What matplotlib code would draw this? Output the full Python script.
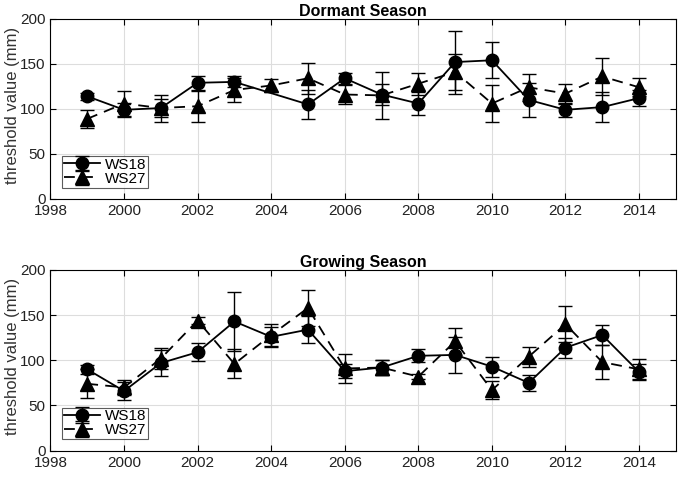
import matplotlib
matplotlib.use("Agg")
import matplotlib.pyplot as plt
import numpy as np

plt.rcParams['font.family'] = ['Liberation Sans', 'DejaVu Sans']

# Dormant season
dorm_ws18_years = [1999, 2000, 2001, 2002, 2003, 2005, 2006, 2007, 2008, 2009, 2010, 2011, 2012, 2013, 2014]
dorm_ws18_vals = [114, 99, 101, 129, 130, 105, 134, 116, 106, 152, 154, 110, 99, 102, 112]
dorm_ws18_err = [4, 8, 15, 8, 6, 16, 6, 12, 13, 35, 20, 19, 8, 17, 9]
dorm_ws27_years = [1999, 2000, 2001, 2002, 2003, 2004, 2005, 2006, 2007, 2008, 2009, 2010, 2011, 2012, 2013, 2014]
dorm_ws27_vals = [89, 106, 101, 103, 121, 126, 134, 116, 115, 128, 141, 106, 124, 117, 136, 124]
dorm_ws27_err = [10, 14, 10, 17, 13, 7, 17, 11, 26, 12, 20, 21, 15, 11, 20, 10]

# Growing season
grow_years = [1999, 2000, 2001, 2002, 2003, 2004, 2005, 2006, 2007, 2008, 2009, 2010, 2011, 2012, 2013, 2014]
grow_ws18_vals = [90, 66, 97, 109, 143, 126, 134, 88, 92, 105, 106, 93, 75, 114, 128, 87]
grow_ws18_err = [5, 10, 14, 10, 33, 11, 15, 8, 8, 7, 20, 11, 9, 11, 11, 9]
grow_ws27_vals = [74, 70, 102, 144, 96, 128, 158, 91, 92, 82, 121, 67, 104, 140, 98, 90]
grow_ws27_err = [16, 8, 12, 4, 16, 12, 20, 16, 8, 3, 15, 10, 11, 20, 19, 11]

titles = ['Dormant Season', 'Growing Season']
xticks = list(range(1998, 2015, 2))
yticks = [0, 50, 100, 150, 200]

fig = plt.figure(figsize=(6.82, 4.83), dpi=100)
ax1 = fig.add_axes([0.074, 0.588, 0.917, 0.373])
ax2 = fig.add_axes([0.074, 0.067, 0.917, 0.374])

panels = [
    (ax1, dorm_ws18_years, dorm_ws18_vals, dorm_ws18_err, dorm_ws27_years, dorm_ws27_vals, dorm_ws27_err),
    (ax2, grow_years, grow_ws18_vals, grow_ws18_err, grow_years, grow_ws27_vals, grow_ws27_err),
]

for i, (ax, x18, y18, e18, x27, y27, e27) in enumerate(panels):
    ax.errorbar(x18, y18, yerr=e18, color='black', marker='o', markersize=9,
                linestyle='-', linewidth=1.3, capsize=5, elinewidth=1.0,
                capthick=1.0, label='WS18', zorder=3)
    ax.errorbar(x27, y27, yerr=e27, color='black', marker='^', markersize=10,
                linestyle=(0, (6, 4)), linewidth=1.3, capsize=5, elinewidth=1.0,
                capthick=1.0, label='WS27', zorder=3)
    ax.set_xlim(1998, 2015)
    ax.set_ylim(0, 200)
    ax.set_xticks(xticks)
    ax.set_yticks(yticks)
    ax.grid(True, color='#dddddd', linewidth=0.8)
    ax.set_axisbelow(True)
    ax.tick_params(direction='in', top=True, right=True, labelsize=11, length=4,
                   labelcolor='#222222')
    for s in ax.spines.values():
        s.set_linewidth(0.8)
    ax.set_title(titles[i], fontsize=11.5, fontweight='bold', pad=2)
    ax.set_ylabel('threshold value (mm)', fontsize=12, color='#333333')
    ax.yaxis.set_label_coords(-0.049, 0.52)
    leg = ax.legend(loc='lower left', fontsize=11, frameon=True, fancybox=False,
                    edgecolor='#333333', handlelength=2.4, borderpad=0.12,
                    labelspacing=0.0, handletextpad=0.3, borderaxespad=0.75)
    leg.get_frame().set_linewidth(0.8)

fig.savefig('out.png', dpi=100)
